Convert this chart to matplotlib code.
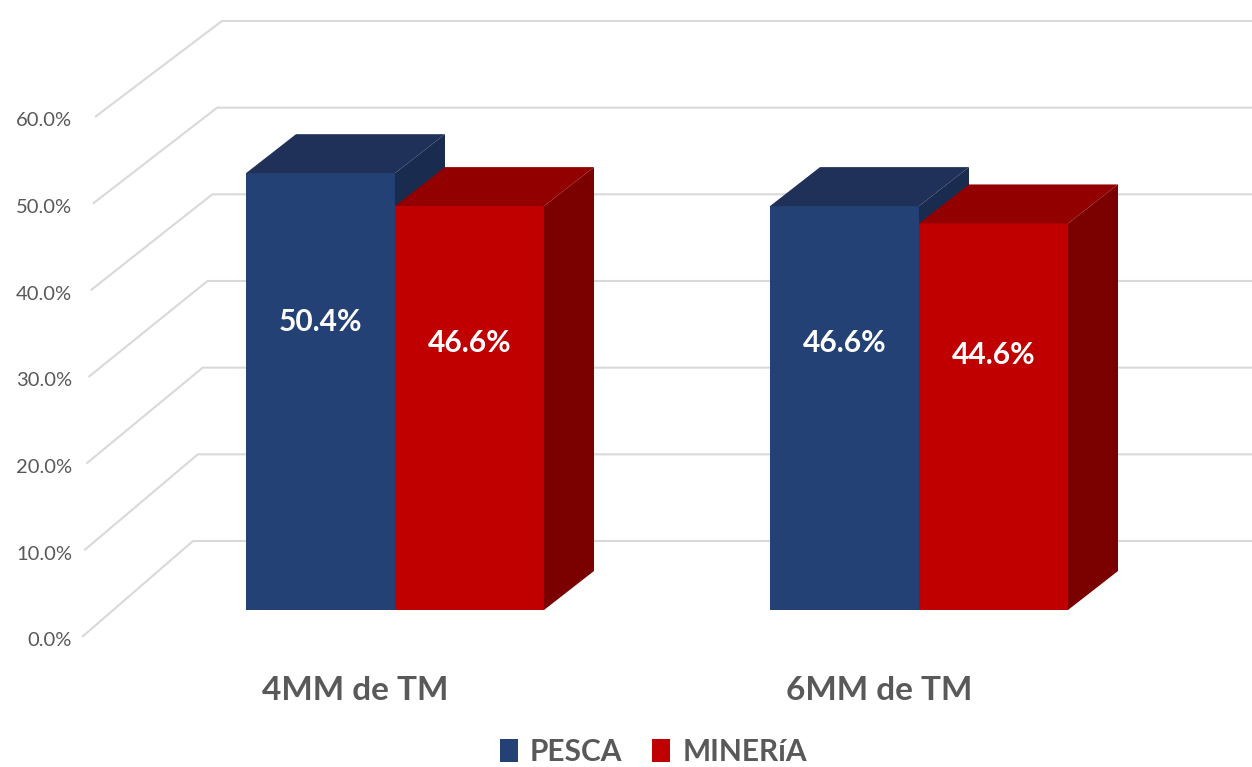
import numpy as np
import matplotlib.pyplot as plt
from matplotlib.patches import Polygon, Patch

# data
categories = ['4MM de TM', '6MM de TM']
series = ['PESCA', 'MINERíA']
pesca = [50.4, 46.6]
mineria = [46.6, 44.6]
ticks = [0, 10, 20, 30, 40, 50, 60]

# colours: front, top, side
cols = {
    'PESCA': ('#244175', '#1F3159', '#192B4E'),
    'MINERíA': ('#C00000', '#920000', '#7B0000'),
}
grid_col = '#D9D9D9'
text_col = '#595959'

plt.rcParams['font.family'] = ['Lato', 'DejaVu Sans']

fig = plt.figure(figsize=(12.52, 7.67), dpi=100)
ax = fig.add_axes([0, 0, 1, 1])
PX = 524.0      # pixels per category unit
PY = 8.667      # pixels per percent
ax.set_xlim(-395 / PX, (1252 - 395) / PX)
ax.set_ylim(-(767 - 637) / PY, 637 / PY)
ax.axis('off')

# floor depth and wall
WALL_DY = 96 / PY
fx0, fx1 = (82 - 395) / PX, (95 - 395) / PX     # front x at 0 / 60
bx0, bx1 = (193 - 395) / PX, (222 - 395) / PX   # back x at 0 / 60
xr = ax.get_xlim()[1]
for v in ticks:
    t = v / 60
    fx = fx0 + (fx1 - fx0) * t
    bx = bx0 + (bx1 - bx0) * t
    ax.plot([fx, bx, xr], [v, v + WALL_DY, v + WALL_DY], color=grid_col,
            lw=1.5, zorder=1, solid_capstyle='butt')
    ax.text(72 / PX + ax.get_xlim()[0], v - 4 / PY, f'{v:.1f}%', ha='right', va='center',
            fontsize=14.5, color=text_col)

# bars
BW = 149 / PX
BASE = 27 / PY
SDX, SDY = 50 / PX, 39 / PY


def box(x0, v, c, z):
    front, top, side = c
    y0, y1 = BASE, BASE + v
    x1 = x0 + BW
    ax.add_patch(Polygon([(x0, y0), (x1, y0), (x1, y1), (x0, y1)],
                         closed=True, fc=front, ec='none', zorder=z))
    ax.add_patch(Polygon([(x0, y1), (x1, y1), (x1 + SDX, y1 + SDY), (x0 + SDX, y1 + SDY)],
                         closed=True, fc=top, ec='none', zorder=z))
    ax.add_patch(Polygon([(x1, y0), (x1 + SDX, y0 + SDY), (x1 + SDX, y1 + SDY), (x1, y1)],
                         closed=True, fc=side, ec='none', zorder=z))


for i in range(len(categories)):
    box(i - BW, pesca[i], cols['PESCA'], 3)
    box(i, mineria[i], cols['MINERíA'], 4)
    for x0, v in [(i - BW, pesca[i]), (i, mineria[i])]:
        ax.text(x0 + BW / 2, BASE + 0.66 * v, f'{v:.1f}%', ha='center', va='center',
                fontsize=21.5, fontweight='bold', color='white', zorder=6)
    ax.text(i - 40 / PX, -(690 - 637) / PY, categories[i], ha='center', va='center',
            fontsize=24, fontweight='bold', color=text_col)

handles = [Patch(fc=cols[s][0], ec='none') for s in series]
fig.legend(handles, series, loc='center', bbox_to_anchor=(0.522, 0.02),
           ncol=2, frameon=False, handlelength=0.6, handleheight=0.8,
           handletextpad=0.4, columnspacing=1.0, labelcolor=text_col,
           prop={'weight': 'bold', 'size': 21.5})

fig.savefig('out.png', dpi=100)
